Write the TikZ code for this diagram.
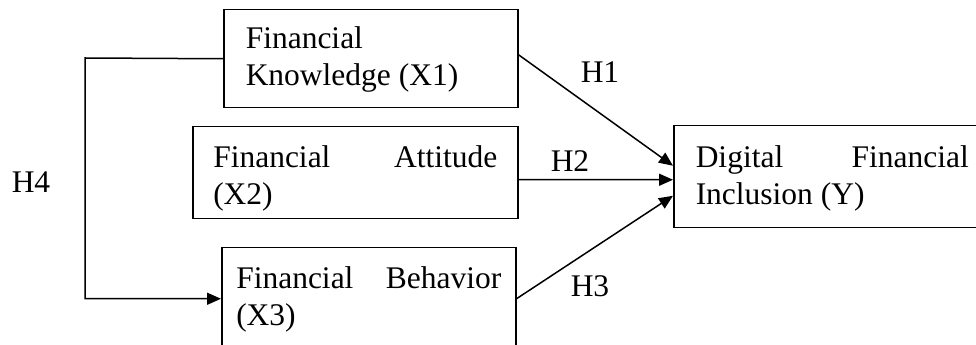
\documentclass[tikz,border=0pt]{standalone}
\usepackage{fontspec}
\setmainfont{Liberation Serif}
\usetikzlibrary{arrows.meta,calc}
\hyphenpenalty=10000
\tolerance=10000

\begin{document}
\begin{tikzpicture}[x=0.4pt, y=-0.4pt, line width=0.6pt,
                    every node/.style={font=\fontsize{12.6pt}{14.6pt}\selectfont},
                    varbox/.style={draw, anchor=north west, align=justify, inner ysep=0pt},
                    hyparrow/.style={-{Triangle[length=5.6pt, width=4.8pt]}}]
                    \clip (0,0) rectangle (976,345);
                    \node[varbox, inner xsep=8.8pt, text width=100pt, text height=15.6pt, text depth=23.6pt] (x1) at (223,9) {Financial Knowledge (X1)};
                    \node[varbox, inner xsep=8.2pt, text width=113.6pt, text height=16.4pt, text depth=20.4pt] (x2) at (192,126) {Financial Attitude (X2)};
                    \node[varbox, inner xsep=5.8pt, text width=106pt, text height=16.4pt, text depth=24.4pt] (x3) at (221,247) {Financial Behavior (X3)};
                    \node[varbox, inner xsep=8.8pt, text width=109.2pt, text height=16.8pt, text depth=24pt] (y) at (673,125) {Digital Financial Inclusion (Y)};
                    \coordinate (h4corner) at (85,58);
                    \draw[hyparrow] (x1.west) -- (h4corner) |- (x3.west);
                    \draw[hyparrow] ($(x1.east)+(0,-4)$) -- ($(y.west)+(0,-11)$);
                    \draw[hyparrow] ($(x2.east)+(0,7)$) -- ($(y.west)+(0,3)$);
                    \draw[hyparrow] (x3.east) -- ($(y.west)+(0,19)$);
                    \node (h1) at (600,72) {H1};
                    \node (h2) at (570,161) {H2};
                    \node (h3) at (590,286) {H3};
                    \node (h4) at (31,182) {H4};
                \end{tikzpicture}
\end{document}
